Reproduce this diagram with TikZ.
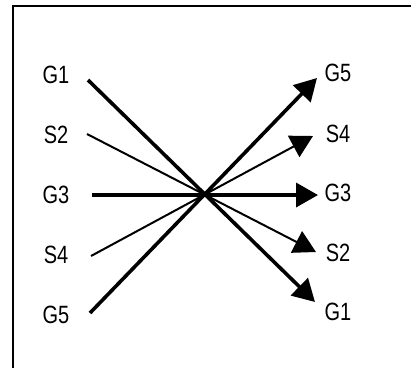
\documentclass[tikz,border=0pt]{standalone}
\usepackage{fontspec}
\setmainfont{Liberation Sans}[FakeStretch=0.8]
\usetikzlibrary{arrows.meta}

\tikzset{
  lbl/.style={inner sep=0pt, font=\fontsize{25}{25}\selectfont},
  thickline/.style={line width=3.6pt, -{Triangle[length=22pt,width=24pt]}},
  thinline/.style={line width=2pt, -{Triangle[length=22pt,width=24pt]}}
}

\begin{document}
\begin{tikzpicture}[x=1pt,y=-1pt]
	%%%%% START %%%%%
	\useasboundingbox (0,0) rectangle (411,368);
	
	\draw[line width=2.4pt] (13,368) -- (13,6) -- (411,6);
	
	% left column
	\node[lbl] (lG1) at (56,75) {G1};
	\node[lbl] (lS2) at (56,135) {S2};
	\node[lbl] (lG3) at (56,195) {G3};
	\node[lbl] (lS4) at (56,255) {S4};
	\node[lbl] (lG5) at (56,315) {G5};
	
	% right column
	\node[lbl] (rG5) at (338,73) {G5};
	\node[lbl] (rS4) at (338,134) {S4};
	\node[lbl] (rG3) at (338,193) {G3};
	\node[lbl] (rS2) at (338,253) {S2};
	\node[lbl] (rG1) at (338,312) {G1};
	
	% line ends
	\coordinate (aG1) at (88,80);
	\coordinate (aS2) at (87,134);
	\coordinate (aG3) at (92,195);
	\coordinate (aS4) at (91,256);
	\coordinate (aG5) at (90,313);
	
	\coordinate (bG5) at (317,78);
	\coordinate (bS4) at (313,136);
	\coordinate (bG3) at (318,195);
	\coordinate (bS2) at (316,252);
	\coordinate (bG1) at (315,302);
	
	\draw[thickline] (aG1) -- (bG1);
	\draw[thinline] (aS2) -- (bS2);
	\draw[thickline] (aG3) -- (bG3);
	\draw[thinline] (aS4) -- (bS4);
	\draw[thickline] (aG5) -- (bG5);
	%%%%% END %%%%%
\end{tikzpicture}
\end{document}
